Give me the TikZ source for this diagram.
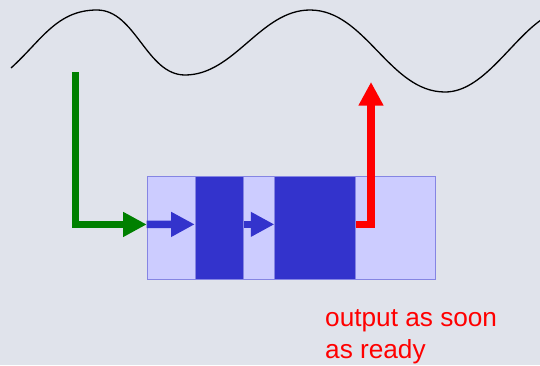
\documentclass[tikz,border=0pt]{standalone}
\usepackage{fontspec}
\setmainfont{Liberation Sans}
\usetikzlibrary{arrows.meta}
\definecolor{bg}{HTML}{E0E3EB}
\definecolor{lightq}{HTML}{CCCCFF}
\definecolor{lightedge}{HTML}{8585E3}
\definecolor{darkq}{HTML}{3333CC}
\definecolor{gr}{HTML}{008000}
\definecolor{rd}{HTML}{FF0000}
\tikzset{
  queue/.style={draw=lightedge, fill=lightq, line width=1pt, inner sep=0pt, anchor=north west,
    minimum width=288pt, minimum height=103.5pt},
  stage/.style={draw=lightedge, fill=darkq, line width=0.8pt, inner sep=0pt, anchor=north west,
    minimum height=103.5pt},
  fat/.style={line width=7.5pt, line join=miter, -{Triangle[width=23.5pt,length=23.5pt]}},
  note/.style={text=rd, font=\fontsize{26.2}{32}\selectfont, align=left, inner sep=0pt}
}
\begin{document}
\begin{tikzpicture}[x=1pt, y=-1pt]
  \fill[bg] (0,0) rectangle (540,365);
  \useasboundingbox (0,0) rectangle (540,365);

  % the signal
  \draw[black, line width=1.3pt]
    (11,68) to[out=42, in=180] (97,10)
            to[out=0, in=180, looseness=0.9] (185,75)
            to[out=0, in=180, looseness=0.9] (310,10)
            to[out=0, in=180, looseness=0.9] (445,92)
            to[out=0, in=-145, looseness=0.8] (541,20);

  % pipeline buffer and its two stages
  \node[queue] (buf) at (146.7,175.7) {};
  \node[stage, minimum width=48.3pt] (s1) at (194.7,175.7) {};
  \node[stage, minimum width=81pt] (s2) at (274.3,175.7) {};

  % input taken from the signal
  \coordinate (in) at (75.5,72);
  \draw[gr, fat] (in) |- ([yshift=3.5pt]buf.west);

  % flow through the stages
  \draw[darkq, fat] ([yshift=3.5pt]buf.west) -- ([yshift=3.5pt]s1.west);
  \draw[darkq, fat] ([yshift=3.5pt]s1.east) -- ([yshift=3.5pt]s2.west);

  % output emitted back
  \coordinate (out) at (371,82);
  \draw[rd, fat] ([yshift=3.5pt]s2.east) -| (out);

  \node[note, anchor=base west] (lbl) at (325,358) {output as soon\\as ready};
\end{tikzpicture}
\end{document}
